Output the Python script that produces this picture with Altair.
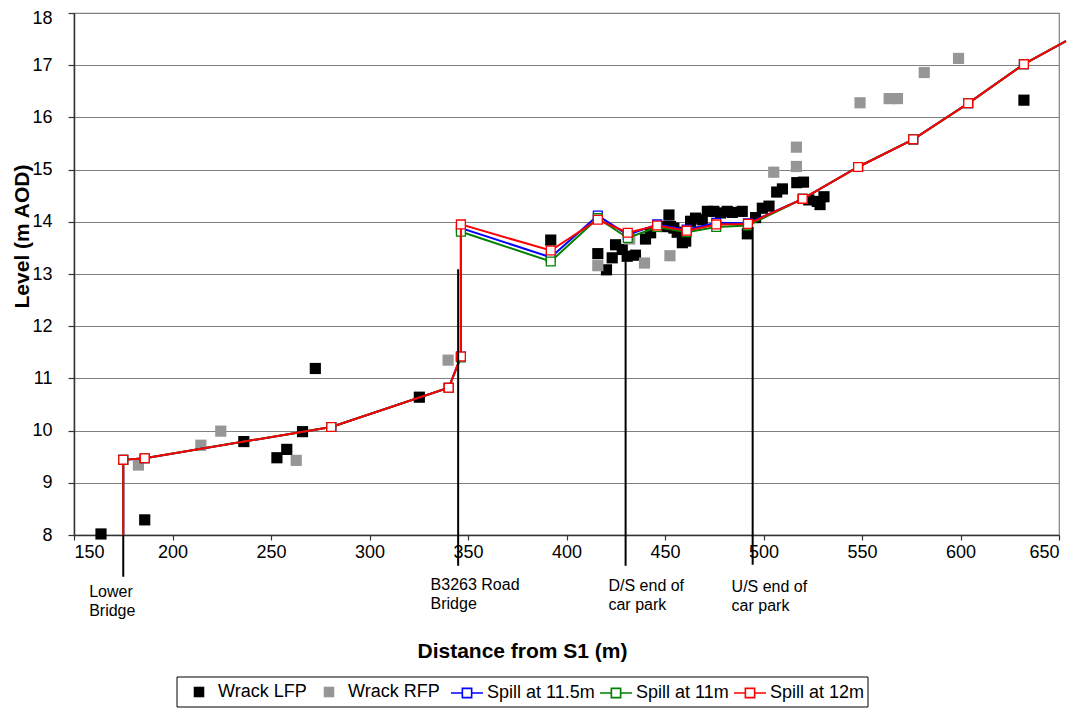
import altair as alt
import pandas as pd

# ---------------- data ----------------
# Wrack LFP (black squares)
lfp_x = [163.7, 185.9, 236.2, 253.0, 258.0, 266.0, 272.5, 325.3, 392.0,
         415.9, 420.3, 423.2, 424.9, 428.3, 430.8, 435.0, 440.1, 442.7, 448.6,
         450.3, 452.0, 452.8, 454.5, 456.2, 458.8, 460.5, 463.0, 465.5, 468.9,
         471.5, 474.8, 478.2, 481.6, 484.2, 489.2, 491.8, 496.0, 499.4, 502.8,
         506.7, 509.6, 516.9, 520.3, 523.0, 527.3, 528.7, 530.7, 632.2]
lfp_y = [8.02, 8.29, 9.79, 9.48, 9.64, 9.98, 11.19, 10.64, 13.65,
         13.39, 13.08, 13.31, 13.56, 13.47, 13.34, 13.36, 13.67, 13.79, 13.91,
         13.91, 14.13, 13.91, 13.88, 13.80, 13.60, 13.63, 14.01, 14.07, 14.04,
         14.20, 14.20, 14.17, 14.20, 14.18, 14.20, 13.77, 14.08, 14.26, 14.30,
         14.57, 14.63, 14.75, 14.76, 14.42, 14.39, 14.33, 14.48, 16.33]

# Wrack RFP (grey squares)
rfp_x = [182.7, 214.4, 224.5, 262.8, 339.9, 415.9, 432.1, 439.6, 452.5,
         505.2, 516.7, 516.7, 549.0, 563.8, 568.0, 581.6, 599.0]
rfp_y = [9.34, 9.72, 9.99, 9.43, 11.35, 13.16, 13.67, 13.21, 13.35,
         14.95, 15.43, 15.06, 16.28, 16.36, 16.36, 16.86, 17.13]

# Spill profiles
spill_x = [175.0, 175.0, 185.9, 280.6, 340.2, 346.4, 346.4, 392.0, 415.9, 431.1,
           446.0, 461.0, 476.0, 492.1, 519.9, 548.0, 576.0, 603.9, 632.2, 653.5]
spill_115 = [8.0, 9.44, 9.47, 10.07, 10.82, 11.42, 13.88, 13.32, 14.12, 13.75,
             13.95, 13.85, 13.98, 13.97, 14.44, 15.05, 15.58, 16.27, 17.02, 17.46]
spill_11 = [8.0, 9.44, 9.47, 10.07, 10.82, 11.40, 13.81, 13.24, 14.07, 13.69,
            13.90, 13.80, 13.90, 13.93, 14.44, 15.05, 15.58, 16.27, 17.02, 17.46]
spill_12 = [8.0, 9.44, 9.47, 10.07, 10.82, 11.42, 13.95, 13.45, 14.04, 13.79,
            13.93, 13.83, 13.95, 13.96, 14.44, 15.05, 15.58, 16.27, 17.02, 17.46]

# Annotations (vertical marker lines and their labels)
ann_text = ["Lower\nBridge", "B3263 Road\nBridge", "D/S end of\ncar park", "U/S end of\ncar park"]
ann_x = [175.0, 345.0, 430.0, 494.5]
ann_top = [8.0, 13.09, 13.40, 13.90]
ann_bottom = [7.20, 7.41, 7.41, 7.43]
ann_label_x = [157.7, 331.0, 421.3, 483.8]
ann_label_y = [7.06, 7.20, 7.18, 7.16]

x_ticks = [150, 200, 250, 300, 350, 400, 450, 500, 550, 600, 650]
y_ticks = [8, 9, 10, 11, 12, 13, 14, 15, 16, 17, 18]

wrack_names = ["Wrack LFP", "Wrack RFP"]
spill_names = ["Spill at 11.5m", "Spill at 11m", "Spill at 12m"]

# ---------------- tables ----------------
wrack = pd.DataFrame(
    [{"series": "Wrack LFP", "x": a, "y": b} for a, b in zip(lfp_x, lfp_y)]
    + [{"series": "Wrack RFP", "x": a, "y": b} for a, b in zip(rfp_x, rfp_y)]
)

rows = []
for name, vals in zip(spill_names, [spill_115, spill_11, spill_12]):
    for i, (a, b) in enumerate(zip(spill_x, vals)):
        rows.append({"series": name, "x": a, "y": b, "idx": i,
                     "marker": 0 < i < len(spill_x) - 1})
spill = pd.DataFrame(rows)

ann = pd.DataFrame({"x": ann_x, "y": ann_top, "y2": ann_bottom})
ann_lab = pd.DataFrame({"x": ann_label_x, "y": ann_label_y, "t": ann_text})

# ---------------- scales / axes ----------------
FONT = "Liberation Sans"
xs = alt.Scale(domain=[150, 650], nice=False, zero=False)
ys = alt.Scale(domain=[8, 18], nice=False, zero=False)

x_axis = alt.Axis(values=x_ticks, title="Distance from S1 (m)", grid=False,
                  tickSize=5, labelPadding=3, labelFontSize=18,
                  titleX=448, titleY=116, titleAlign="center", titleBaseline="middle",
                  titleFontSize=21, titleFontWeight="bold")
y_axis = alt.Axis(values=y_ticks, title="Level (m AOD)", grid=True,
                  gridColor="#808080", gridWidth=1.2, tickSize=6, labelPadding=16,
                  labelFontSize=18,
                  labelOffset={"condition": {"test": "datum.value == 18", "value": 5}, "value": 0},
                  titleX=-52, titleY=223, titleAngle=270,
                  titleAlign="center", titleBaseline="middle",
                  titleFontSize=21, titleFontWeight="bold")

X = alt.X("x:Q", scale=xs, axis=x_axis)
Y = alt.Y("y:Q", scale=ys, axis=y_axis)

wrack_legend = alt.Legend(
    orient="none", legendX=109, legendY=663, direction="horizontal", title=None,
    symbolType="M-0.33,-0.33H0.33V0.33H-0.33Z", symbolSize=1024,
    symbolStrokeWidth=0, symbolOpacity=1, labelFontSize=18, labelFont=FONT,
    labelColor="black", labelOffset=3, columnPadding=6, padding=0, labelLimit=300)

spill_legend = alt.Legend(
    orient="none", legendX=376, legendY=663, direction="horizontal", title=None,
    symbolType="M-1,0H-0.29M0.29,0H1M-0.29,-0.29H0.29V0.29H-0.29Z", symbolSize=1024,
    symbolStrokeWidth=1.6, symbolFillColor="white", symbolOpacity=1,
    labelFontSize=18, labelFont=FONT, labelColor="black", labelOffset=3,
    columnPadding=1, padding=0, labelLimit=300)

fill_enc = alt.Fill("series:N",
                    scale=alt.Scale(domain=wrack_names, range=["#000000", "#969696"]),
                    legend=wrack_legend)
stroke_enc = alt.Stroke("series:N",
                        scale=alt.Scale(domain=spill_names, range=["#0000FF", "#008000", "#FF0000"]),
                        legend=spill_legend)

scatter = alt.Chart(wrack).mark_square(size=125, opacity=1, strokeWidth=0).encode(
    x=X, y=Y, fill=fill_enc)

layers = [scatter]
for name in spill_names:
    base = alt.Chart(spill).transform_filter(alt.datum.series == name)
    line = base.mark_line(strokeWidth=2).encode(
        x=X, y=Y, stroke=stroke_enc, order=alt.Order("idx:Q"))
    pts = base.transform_filter(alt.datum.marker).mark_point(
        shape="square", filled=True, fill="white", size=78, strokeWidth=1.3, opacity=1
    ).encode(x=X, y=Y, stroke=stroke_enc)
    layers += [line, pts]

rules = alt.Chart(ann).mark_rule(color="black", strokeWidth=2).encode(
    x=X, y=Y, y2="y2:Q")
texts = alt.Chart(ann_lab).mark_text(
    align="left", baseline="top", fontSize=16, font=FONT, lineBreak="\n",
    lineHeight=19, color="black").encode(x=X, y=Y, text="t:N")

box = alt.Chart(pd.DataFrame({"k": [0]})).mark_rect(
    fillOpacity=0, stroke="black", strokeWidth=1).encode(
    x=alt.value(103), x2=alt.value(794), y=alt.value(664), y2=alt.value(694))

chart = alt.layer(*layers, rules, texts, box).properties(
    width=985, height=522,
    autosize=alt.AutoSizeParams(type="none"),
    padding={"left": 66, "top": 5, "right": 8, "bottom": 173},
).configure(font=FONT).configure_axis(
    labelColor="black", titleColor="black", labelFont=FONT, titleFont=FONT,
    domainColor="#333333", domainWidth=1.5, tickColor="#333333", tickWidth=1.2,
).configure_view(stroke="#808080", strokeWidth=1.2)

chart.save("out.html", embed_options={"renderer": "svg", "actions": False})
